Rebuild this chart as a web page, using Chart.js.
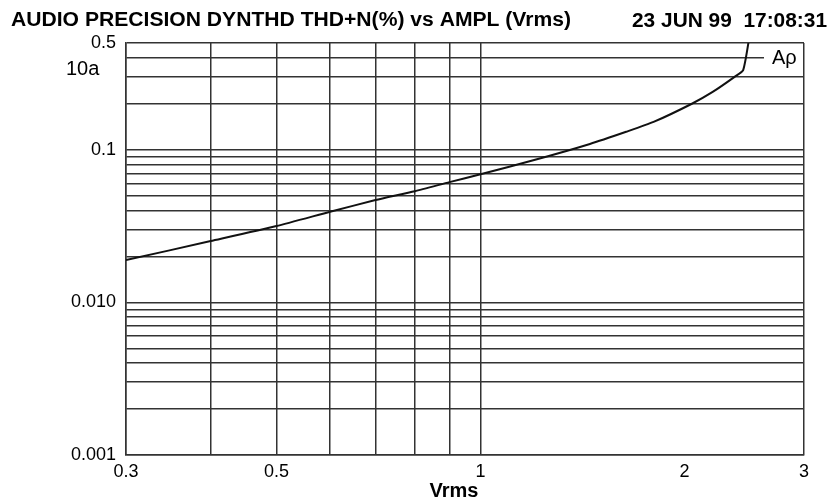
<!DOCTYPE html>
<html>
<head>
<meta charset="utf-8">
<script src="https://cdn.jsdelivr.net/npm/chart.js@4"></script>
<style>
  html, body { margin: 0; padding: 0; background: #fff; }
  #wrap { width: 829px; height: 500px; }
</style>
</head>
<body>
<div id="wrap"><canvas id="chart" width="829" height="500"></canvas></div>
<script>
// values (Vrms vs THD+N %)
let amplVrms = [0.3, 0.4, 0.5, 0.6, 0.7, 0.8, 0.9, 1.0, 1.2, 1.45, 1.64, 1.8, 2.05, 2.2, 2.37, 2.44, 2.5];
let thdPct = [0.0189, 0.0252, 0.0316, 0.0392, 0.0468, 0.0535, 0.0613, 0.069, 0.0855, 0.109, 0.131, 0.152, 0.2, 0.239, 0.3, 0.332, 0.6];

let xTicks = [0.3, 0.4, 0.5, 0.6, 0.7, 0.8, 0.9, 1, 2, 3];
let xLabels = { 0.3: '0.3', 0.5: '0.5', 1: '1', 2: '2', 3: '3' };
let yTicks = [0.001, 0.002, 0.003, 0.004, 0.005, 0.006, 0.007, 0.008, 0.009,
  0.01, 0.02, 0.03, 0.04, 0.05, 0.06, 0.07, 0.08, 0.09,
  0.1, 0.2, 0.3, 0.4, 0.5];
let yLabels = { 0.001: '0.001', 0.01: '0.010', 0.1: '0.1', 0.5: '0.5' };

let titleText = 'AUDIO PRECISION DYNTHD THD+N(%) vs AMPL (Vrms)';
let dateText = '23 JUN 99  17:08:31';

let gridColor = '#333';
let font = 'Liberation Sans, Arial, sans-serif';

fitText = (ctx, text, x, y, w) => {
  let m = ctx.measureText(text).width;
  ctx.save();
  ctx.translate(x, y);
  ctx.scale(w / m, 1);
  ctx.fillText(text, 0, 0);
  ctx.restore();
}

let extras = {
  id: 'extras',
  afterDraw: (chart) => {
    let ctx = chart.ctx;
    let area = chart.chartArea;
    let y = chart.scales.y;
    ctx.save();
    ctx.fillStyle = '#000';
    ctx.textBaseline = 'alphabetic';
    ctx.textAlign = 'left';
    ctx.font = 'bold 20px ' + font;
    fitText(ctx, titleText, 11, 26, 560);
    fitText(ctx, dateText, 632, 27, 195);

    ctx.font = '20px ' + font;
    ctx.textBaseline = 'middle';
    ctx.fillText('10a', 66, 69);

    // curve label sitting on the 0.4 line
    let yy = y.getPixelForValue(0.4);
    ctx.fillStyle = '#fff';
    ctx.fillRect(764, yy - 11, area.right - 765, 22);
    ctx.fillStyle = '#000';
    ctx.fillText('A\u03C1', 772, yy + 1);

    ctx.font = 'bold 20px ' + font;
    ctx.textAlign = 'center';
    ctx.textBaseline = 'alphabetic';
    ctx.fillText('Vrms', 454, 497);
    ctx.restore();
  }
};

let points = amplVrms.map((v, i) => ({ x: v, y: thdPct[i] }));

new Chart(document.getElementById('chart').getContext('2d'), {
  type: 'line',
  data: {
    datasets: [{
      data: points,
      borderColor: '#111',
      borderWidth: 2,
      pointRadius: 0,
      tension: 0.2,
      fill: false
    }]
  },
  options: {
    responsive: false,
    animation: false,
    layout: { padding: { top: 43, right: 25, left: 0, bottom: 0 } },
    plugins: { legend: { display: false }, tooltip: { enabled: false } },
    scales: {
      x: {
        type: 'logarithmic',
        min: 0.3,
        max: 3,
        afterBuildTicks: (s) => { s.ticks = xTicks.map(v => ({ value: v })); },
        afterFit: (s) => { s.height = 45; },
        ticks: {
          autoSkip: false,
          maxRotation: 0,
          padding: 6,
          color: '#000',
          font: { family: font, size: 18 },
          callback: (v) => xLabels[v] || ''
        },
        grid: {
          drawTicks: false,
          lineWidth: 1.5,
          color: (c) => (c.tick && c.tick.value === 2) ? 'rgba(0,0,0,0)' : gridColor
        },
        border: { display: true, color: gridColor, width: 1.5 }
      },
      y: {
        type: 'logarithmic',
        min: 0.001,
        max: 0.5,
        afterBuildTicks: (s) => { s.ticks = yTicks.map(v => ({ value: v })); },
        afterFit: (s) => { s.width = 126; },
        ticks: {
          autoSkip: false,
          padding: 10,
          color: '#000',
          font: { family: font, size: 18 },
          callback: (v) => yLabels[v] || ''
        },
        grid: { drawTicks: false, lineWidth: 1.5, color: gridColor },
        border: { display: true, color: gridColor, width: 1.5 }
      }
    }
  },
  plugins: [extras]
});
</script>
</body>
</html>
